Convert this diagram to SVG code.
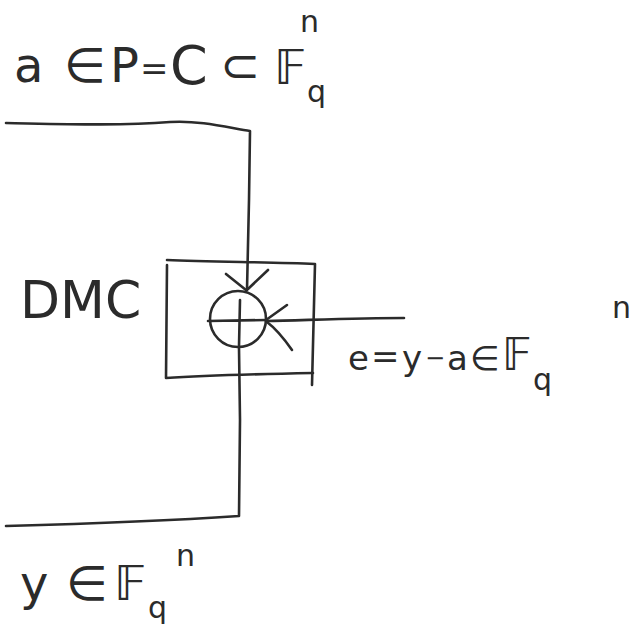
<svg xmlns="http://www.w3.org/2000/svg" width="644" height="631" viewBox="0 0 644 631">
<style>
.ln{fill:none;stroke:#2b2b2b;stroke-width:2.6;stroke-linecap:round;stroke-linejoin:round}
.t{font-family:"DejaVu Sans","Liberation Sans",sans-serif;fill:#2b2b2b}
.big{font-size:48px}
.mid{font-size:34px}
.sub{font-size:30px}
</style>
<rect width="644" height="631" fill="#ffffff"/>
<g id="connectors">
<path class="ln" d="M6 123 C60 124 120 126 170 122 C200 120 230 128 250 131 L249 200 L247 290"/>
<path class="ln" d="M226 274 L246 290 M268 270 L248 289"/>
<path class="ln" d="M404 318 C360 318 310 320 266 321"/>
<path class="ln" d="M287 305 L266 320 M292 350 C285 340 275 328 267 322"/>
<path class="ln" d="M239 348 L240 420 L239 516 C180 520 80 524 6 526"/>
</g>
<g id="dmc">
<path class="ln" d="M167 260 C210 262 270 262 315 264 L312 385"/>
<path class="ln" d="M167 265 L166 378 C210 375 260 374 313 373"/>
<circle class="ln" cx="238" cy="319" r="28"/>
<path class="ln" d="M208 321 L266 320 M240 300 L239 346"/>
<text class="t" x="20" y="318" font-size="52">DMC</text>
</g>
<g id="input-label">
<text class="t big" x="14" y="82">a</text>
<text class="t big" x="64" y="82">∈</text>
<text class="t big" x="110" y="82">P</text>
<text class="t" x="140" y="80" font-size="34">=</text>
<text class="t" x="170" y="84" font-size="54">C</text>
<text class="t big" x="220" y="82">⊂</text>
<text class="t big" x="274" y="84">𝔽</text>
<text class="t sub" x="307" y="102">q</text>
<text class="t sub" x="300" y="32">n</text>
</g>
<g id="error-label">
<text class="t mid" x="348" y="370">e</text>
<text class="t mid" x="371" y="368">=</text>
<text class="t mid" x="402" y="370">y</text>
<text class="t" x="425" y="366" font-size="24">−</text>
<text class="t mid" x="447" y="370">a</text>
<text class="t mid" x="470" y="370">∈</text>
<text class="t" x="502" y="370" font-size="44">𝔽</text>
<text class="t sub" x="533" y="390">q</text>
<text class="t sub" x="612" y="318">n</text>
</g>
<g id="output-label">
<text class="t big" x="20" y="600">y</text>
<text class="t big" x="66" y="600">∈</text>
<text class="t big" x="114" y="600">𝔽</text>
<text class="t sub" x="148" y="618">q</text>
<text class="t sub" x="176" y="566">n</text>
</g>
</svg>
